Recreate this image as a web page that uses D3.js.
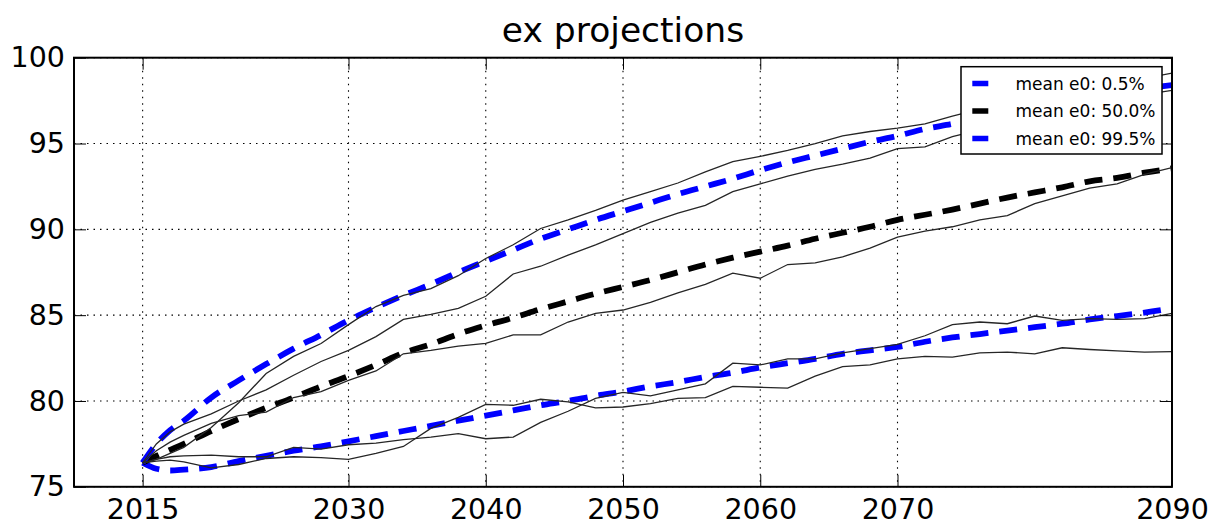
<!DOCTYPE html>
<html>
<head>
<meta charset="utf-8">
<script src="https://cdn.jsdelivr.net/npm/d3@7"></script>
<style>
  body { margin: 0; background: #fff; }
  text { font-family: "DejaVu Sans", sans-serif; fill: #000; }
</style>
</head>
<body>
<div id="chart"></div>
<script>
'use strict';

// projection years (sampled every 2 years, yearly at the start)
var years = [2015, 2016, 2017, 2018, 2020, 2022, 2024, 2026, 2028, 2030,
             2032, 2034, 2036, 2038, 2040, 2042, 2044, 2046, 2048, 2050,
             2052, 2054, 2056, 2058, 2060, 2062, 2064, 2066, 2068, 2070,
             2072, 2074, 2076, 2078, 2080, 2082, 2084, 2086, 2088, 2090];

// dashed mean lines
var meanE0_995 = [76.4, 77.5, 78.3, 78.85, 80.2, 81.2, 82.15, 83.05, 83.85, 84.7,
                  85.45, 86.15, 86.8, 87.5, 88.15, 88.8, 89.45, 90.0, 90.55, 91.05,
                  91.55, 92.05, 92.5, 92.95, 93.45, 93.9, 94.3, 94.7, 95.1, 95.45,
                  95.85, 96.15, 96.5, 96.8, 97.1, 97.4, 97.7, 97.95, 98.2, 98.4];
var meanE0_500 = [76.4, 76.8, 77.15, 77.5, 78.25, 78.95, 79.6, 80.2, 80.85, 81.45,
                  82.1, 82.8, 83.3, 83.9, 84.4, 84.85, 85.35, 85.8, 86.25, 86.65,
                  87.05, 87.5, 87.95, 88.35, 88.7, 89.05, 89.45, 89.8, 90.15, 90.55,
                  90.85, 91.15, 91.5, 91.85, 92.15, 92.45, 92.8, 93.0, 93.3, 93.55];
var meanE0_005 = [76.4, 76.05, 75.95, 76.0, 76.15, 76.5, 76.8, 77.1, 77.35, 77.65,
                  77.95, 78.25, 78.55, 78.85, 79.15, 79.45, 79.75, 80.0, 80.3, 80.55,
                  80.85, 81.1, 81.4, 81.65, 81.95, 82.2, 82.45, 82.75, 82.95, 83.15,
                  83.45, 83.7, 83.9, 84.1, 84.3, 84.5, 84.75, 84.95, 85.15, 85.4];

// thin single trajectories
var sim1 = [76.4, 76.6, 76.95, 77.3, 78.45, 79.9, 81.6, 82.6, 83.35, 84.45,
            85.5, 86.15, 86.55, 87.3, 88.3, 89.1, 90.05, 90.55, 91.1, 91.7,
            92.2, 92.7, 93.35, 93.95, 94.25, 94.6, 95.0, 95.45, 95.7, 95.9,
            96.15, 96.6, 97.0, 97.3, 97.6, 97.95, 98.25, 98.55, 98.8, 99.1];
var sim2 = [76.4, 77.5, 78.2, 78.65, 79.25, 80.0, 80.65, 81.5, 82.3, 82.95,
            83.75, 84.75, 85.05, 85.4, 86.1, 87.4, 87.85, 88.5, 89.1, 89.75,
            90.4, 90.95, 91.4, 92.2, 92.65, 93.1, 93.5, 93.8, 94.15, 94.7,
            94.8, 95.4, 95.8, 96.2, 96.6, 96.95, 97.3, 97.6, 97.85, 98.1];
var sim3 = [76.4, 77.1, 77.6, 78.0, 78.7, 79.15, 79.35, 80.2, 80.55, 81.2,
            81.75, 82.75, 82.95, 83.2, 83.35, 83.85, 83.85, 84.6, 85.1, 85.3,
            85.75, 86.3, 86.8, 87.45, 87.15, 87.95, 88.05, 88.4, 88.9, 89.55,
            89.9, 90.15, 90.55, 90.8, 91.5, 91.95, 92.4, 92.65, 93.2, 93.6];
var sim4 = [76.4, 76.6, 76.75, 76.8, 76.85, 76.75, 76.75, 77.3, 77.2, 77.45,
            77.55, 77.75, 77.9, 78.1, 77.8, 77.9, 78.75, 79.4, 80.15, 80.5,
            80.3, 80.65, 81.0, 82.2, 82.1, 82.45, 82.45, 82.8, 83.05, 83.3,
            83.8, 84.45, 84.6, 84.5, 84.95, 84.7, 84.8, 84.75, 84.8, 85.1];
var sim5 = [76.4, 76.5, 76.55, 76.45, 76.1, 76.3, 76.65, 76.75, 76.7, 76.6,
            76.95, 77.35, 78.4, 79.05, 79.8, 79.75, 80.1, 79.95, 79.6, 79.65,
            79.85, 80.15, 80.2, 80.85, 80.8, 80.75, 81.45, 82.0, 82.1, 82.45,
            82.6, 82.55, 82.8, 82.85, 82.75, 83.1, 83.0, 82.92, 82.85, 82.87];

var xTicks = [2015, 2030, 2040, 2050, 2060, 2070, 2090];
var yTicks = [75, 80, 85, 90, 95, 100];

var legendLabels = ["mean e0: 0.5%", "mean e0: 50.0%", "mean e0: 99.5%"];
var legendColors = ["#0000ff", "#000000", "#0000ff"];

drawChart();

function drawChart() {

    var svgWidth = 1212;
    var svgHeight = 527;
    var left = 74, right = 1172, top = 57.7, bottom = 486.8;

    var x = d3.scaleLinear().domain([2010, 2090]).range([left, right]);
    var y = d3.scaleLinear().domain([75, 100]).range([bottom, top]);

    var svg = d3.select("#chart")
        .append("svg")
        .attr("width", svgWidth)
        .attr("height", svgHeight);

    svg.append("defs").append("clipPath")
        .attr("id", "plotClip")
        .append("rect")
        .attr("x", left).attr("y", top)
        .attr("width", right - left).attr("height", bottom - top);

    // title
    svg.append("text")
        .attr("x", (left + right) / 2)
        .attr("y", 42.3)
        .attr("text-anchor", "middle")
        .style("font-size", "34.5px")
        .text("ex projections");

    // dotted grid
    var grid = svg.append("g").attr("class", "grid")
        .attr("stroke", "#000")
        .attr("stroke-width", 1.1)
        .attr("stroke-dasharray", "1.5,5");
    grid.selectAll("line.vx")
        .data(xTicks)
        .enter().append("line")
        .attr("class", "vx")
        .attr("x1", function (d) { return x(d); })
        .attr("x2", function (d) { return x(d); })
        .attr("y1", top).attr("y2", bottom);
    grid.selectAll("line.hy")
        .data(yTicks)
        .enter().append("line")
        .attr("class", "hy")
        .attr("y1", function (d) { return y(d); })
        .attr("y2", function (d) { return y(d); })
        .attr("x1", left).attr("x2", right);

    var plot = svg.append("g").attr("clip-path", "url(#plotClip)");

    var line = d3.line()
        .x(function (d) { return x(d[0]); })
        .y(function (d) { return y(d[1]); });
    var smooth = d3.line()
        .x(function (d) { return x(d[0]); })
        .y(function (d) { return y(d[1]); })
        .curve(d3.curveMonotoneX);

    function pairs(values) {
        return years.map(function (yr, i) { return [yr, values[i]]; });
    }

    // dashed mean lines
    var dashed = [
        { values: meanE0_005, color: legendColors[0] },
        { values: meanE0_500, color: legendColors[1] },
        { values: meanE0_995, color: legendColors[2] }
    ];
    plot.selectAll("path.mean")
        .data(dashed)
        .enter().append("path")
        .attr("class", "mean")
        .attr("d", function (d) { return smooth(pairs(d.values)); })
        .attr("fill", "none")
        .attr("stroke", function (d) { return d.color; })
        .attr("stroke-width", 5.8)
        .attr("stroke-dasharray", "18,11");

    // thin trajectories
    var sims = [sim1, sim2, sim3, sim4, sim5];
    plot.selectAll("path.sim")
        .data(sims)
        .enter().append("path")
        .attr("class", "sim")
        .attr("d", function (d) { return line(pairs(d)); })
        .attr("fill", "none")
        .attr("stroke", "#262626")
        .attr("stroke-width", 1.3);

    // axes, ticks pointing inside
    var xAxis = svg.append("g")
        .attr("transform", "translate(0," + bottom + ")")
        .call(d3.axisBottom(x).tickValues(xTicks).tickFormat(d3.format("d"))
            .tickSizeInner(-12).tickSizeOuter(0).tickPadding(12));
    var yAxis = svg.append("g")
        .attr("transform", "translate(" + left + ",0)")
        .call(d3.axisLeft(y).tickValues(yTicks).tickFormat(d3.format("d"))
            .tickSizeInner(-12).tickSizeOuter(0).tickPadding(9));
    svg.append("g")
        .attr("transform", "translate(0," + top + ")")
        .call(d3.axisTop(x).tickValues(xTicks).tickFormat("")
            .tickSizeInner(-12).tickSizeOuter(0));
    svg.append("g")
        .attr("transform", "translate(" + right + ",0)")
        .call(d3.axisRight(y).tickValues(yTicks).tickFormat("")
            .tickSizeInner(-12).tickSizeOuter(0));

    svg.selectAll(".domain").remove();
    svg.selectAll(".tick line").attr("stroke", "#000").attr("stroke-width", 1);
    xAxis.selectAll("text").style("font-size", "28.5px").attr("font-family", null).attr("fill", "#000");
    yAxis.selectAll("text").style("font-size", "28.5px").attr("font-family", null).attr("fill", "#000");

    // frame
    svg.append("rect")
        .attr("x", left).attr("y", top)
        .attr("width", right - left).attr("height", bottom - top)
        .attr("fill", "none")
        .attr("stroke", "#000")
        .attr("stroke-width", 2);

    // legend
    var legend = svg.append("g").attr("class", "legend");
    legend.append("rect")
        .attr("x", 961).attr("y", 66.7)
        .attr("width", 201).attr("height", 87.3)
        .attr("fill", "#fff")
        .attr("stroke", "#000")
        .attr("stroke-width", 1.5);

    var items = legend.selectAll("g.item")
        .data(legendLabels)
        .enter().append("g")
        .attr("class", "item")
        .attr("transform", function (d, i) { return "translate(0," + (83.5 + i * 27.5) + ")"; });
    items.append("line")
        .attr("x1", 972.3).attr("x2", 988.3)
        .attr("y1", 0).attr("y2", 0)
        .attr("stroke", function (d, i) { return legendColors[i]; })
        .attr("stroke-width", 5.5)
        .attr("stroke-dasharray", "18,11");
    items.append("text")
        .attr("x", 1015.5)
        .attr("dy", "0.36em")
        .style("font-size", "17px")
        .text(function (d) { return d; });
}
</script>
</body>
</html>
